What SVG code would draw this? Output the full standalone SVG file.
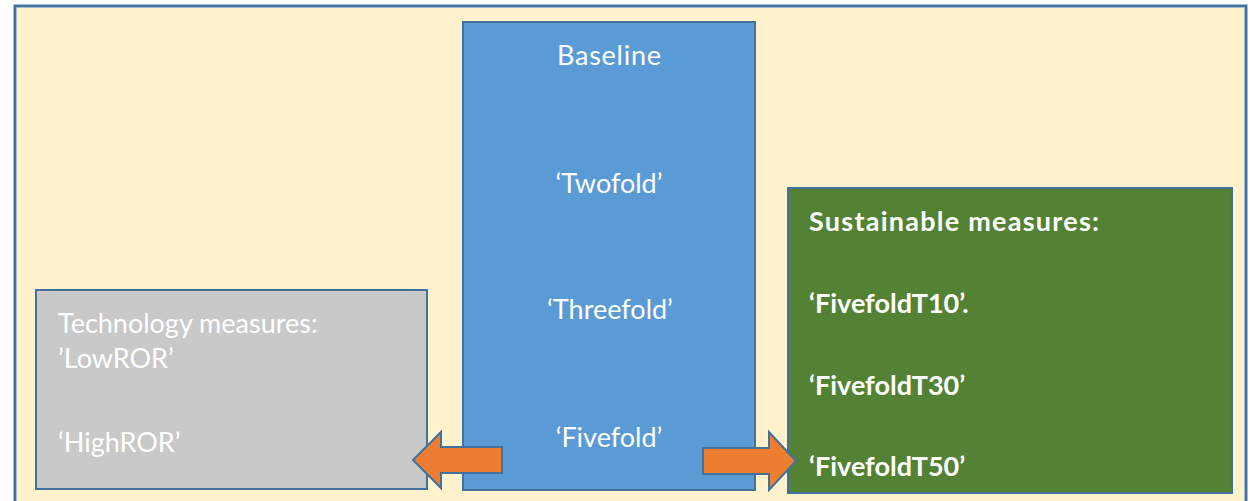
<svg xmlns="http://www.w3.org/2000/svg" width="1256" height="501" viewBox="0 0 1256 501">
  <style>
    .box { stroke: #41719c; stroke-width: 2; }
    .lbl { font-family: Lato, "Liberation Sans", sans-serif; font-size: 27px; fill: #ffffff; }
    .mid { text-anchor: middle; }
    .bold { font-weight: bold; }
    .arrow { fill: #ed7d31; stroke: #41719c; stroke-width: 2; stroke-linejoin: miter; }
  </style>
  <rect width="1256" height="501" fill="#ffffff"/>

  <!-- outer frame -->
  <g id="frame">
    <rect x="15" y="6" width="1231" height="510" fill="#fff2cc" stroke="#c9d6ea" stroke-width="4"/>
    <rect x="15" y="6" width="1231" height="510" fill="none" stroke="#41719c" stroke-width="2.5"/>
  </g>

  <!-- central scenario column -->
  <g id="baseline">
    <rect class="box" x="463" y="22" width="292" height="468" fill="#5b9bd5"/>
    <text class="lbl mid" x="609" y="65" textLength="104">Baseline</text>
    <text class="lbl mid" x="609" y="193">‘Twofold’</text>
    <text class="lbl mid" x="610" y="319">‘Threefold’</text>
    <text class="lbl mid" x="609" y="447">‘Fivefold’</text>
  </g>

  <!-- technology measures -->
  <g id="technology">
    <rect class="box" x="36" y="290" width="391" height="199" fill="#c9c9c9"/>
    <text class="lbl" x="58" y="333" fill="#f2f2f2">Technology measures:</text>
    <text class="lbl" x="58" y="368">’LowROR’</text>
    <text class="lbl" x="58" y="452">‘HighROR’</text>
  </g>

  <!-- sustainable measures -->
  <g id="sustainable">
    <rect class="box" x="788" y="188" width="444" height="305" fill="#548235"/>
    <text class="lbl bold" x="809" y="231" textLength="290">Sustainable measures:</text>
    <text class="lbl bold" x="809" y="313">‘FivefoldT10’.</text>
    <text class="lbl bold" x="809" y="395">‘FivefoldT30’</text>
    <text class="lbl bold" x="809" y="476">‘FivefoldT50’</text>
  </g>

  <!-- block arrows -->
  <g id="connectors">
    <polygon class="arrow" points="502,447 441,447 441,432 413,460 441,488 441,473 502,473"/>
    <polygon class="arrow" points="703,448 769,448 769,432 796,461 769,490 769,474 703,474"/>
  </g>
</svg>
